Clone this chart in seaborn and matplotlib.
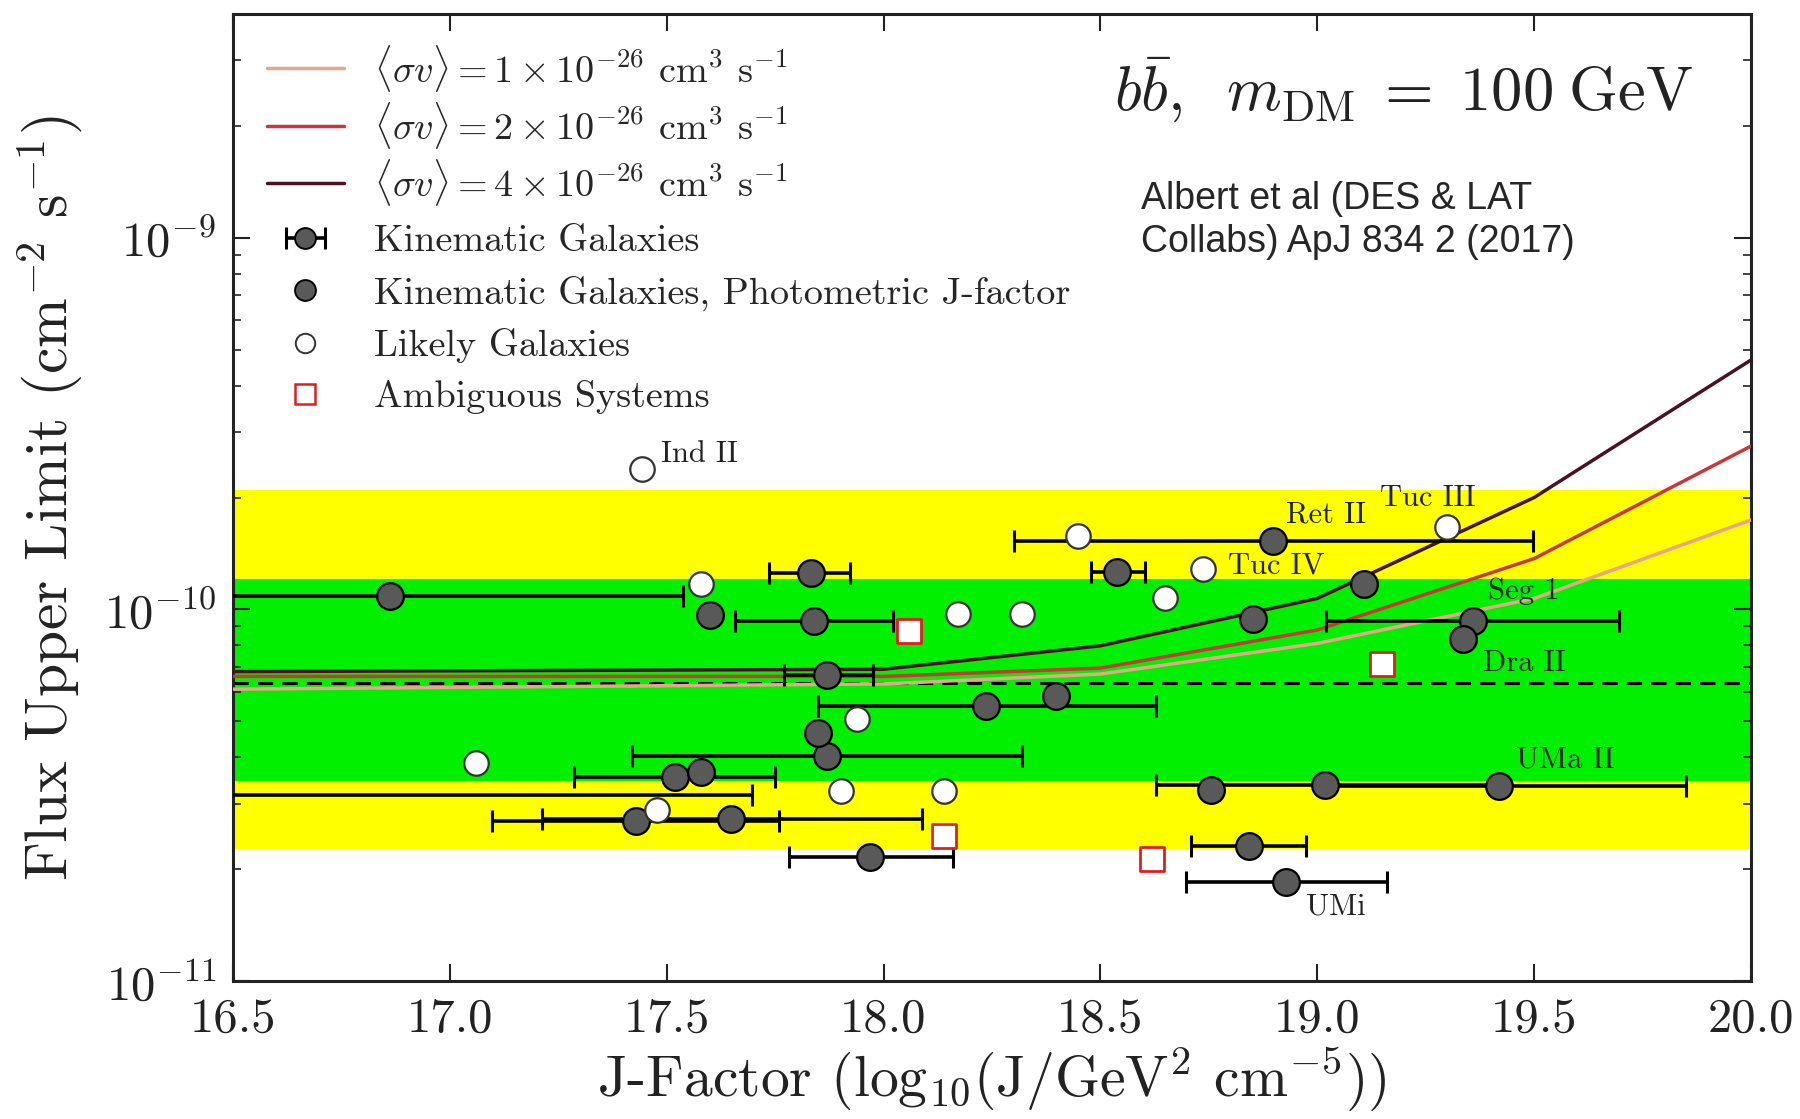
import numpy as np
import pandas as pd
import matplotlib
matplotlib.use("Agg")
import matplotlib.pyplot as plt
import seaborn as sns
from matplotlib.lines import Line2D
from matplotlib.legend_handler import HandlerTuple
from matplotlib.ticker import FormatStrFormatter, LogLocator, NullFormatter

# ---------------- data ----------------
# cross-section curves (x = log10 J, y = flux upper limit)
curve_x = [16.5, 18.0, 18.5, 19.0, 19.5, 20.0]
curve_1e26 = [6.1e-11, 6.3e-11, 6.7e-11, 8.1e-11, 1.07e-10, 1.74e-10]
curve_2e26 = [6.6e-11, 6.6e-11, 6.95e-11, 8.8e-11, 1.37e-10, 2.75e-10]
curve_4e26 = [6.8e-11, 6.9e-11, 7.98e-11, 1.07e-10, 2.0e-10, 4.69e-10]
curve_labels = [r'$\langle\sigma v\rangle = 1\times10^{-26}$ cm$^3$ s$^{-1}$',
                r'$\langle\sigma v\rangle = 2\times10^{-26}$ cm$^3$ s$^{-1}$',
                r'$\langle\sigma v\rangle = 4\times10^{-26}$ cm$^3$ s$^{-1}$']
marker_labels = ["Kinematic Galaxies", "Kinematic Galaxies, Photometric J-factor",
                 "Likely Galaxies", "Ambiguous Systems"]

# expected sensitivity bands and median
band95 = [2.26e-11, 2.10e-10]
band68 = [3.45e-11, 1.21e-10]
median_flux = 6.35e-11

# kinematic galaxies with J-factor uncertainties
kin_x = [16.863, 17.832, 17.840, 17.869, 18.237, 17.869, 17.519, 17.429, 17.649, 16.300,
         18.899, 18.539, 18.843, 17.969, 18.928, 19.018, 19.418, 19.359]
kin_y = [1.089e-10, 1.254e-10, 9.31e-11, 6.68e-11, 5.51e-11, 4.04e-11, 3.55e-11, 2.70e-11, 2.73e-11, 3.17e-11,
         1.53e-10, 1.263e-10, 2.31e-11, 2.16e-11, 1.85e-11, 3.36e-11, 3.34e-11, 9.31e-11]
kin_lo = [16.20, 17.736, 17.657, 17.771, 17.848, 17.421, 17.286, 17.098, 17.212, 15.90,
          18.300, 18.478, 18.708, 17.781, 18.697, 18.629, 19.018, 19.020]
kin_hi = [17.538, 17.922, 18.022, 17.975, 18.629, 18.319, 17.750, 17.760, 18.089, 17.697,
          19.497, 18.602, 18.973, 18.160, 19.161, 19.418, 19.849, 19.696]

# kinematic galaxies with photometric J-factor
phot_x = [17.601, 18.398, 17.850, 17.580, 18.756, 18.851, 19.108, 19.336]
phot_y = [9.65e-11, 5.84e-11, 4.65e-11, 3.66e-11, 3.27e-11, 9.45e-11, 1.169e-10, 8.32e-11]

# likely galaxies
likely_x = [17.443, 17.580, 18.449, 18.737, 19.298, 18.650, 18.171, 18.319, 17.938, 17.061, 17.901, 18.139, 17.477]
likely_y = [2.39e-10, 1.169e-10, 1.574e-10, 1.281e-10, 1.665e-10, 1.073e-10, 9.72e-11, 9.70e-11,
            5.07e-11, 3.87e-11, 3.24e-11, 3.24e-11, 2.89e-11]

# ambiguous systems
amb_x = [18.059, 19.150, 18.139, 18.618]
amb_y = [8.74e-11, 7.12e-11, 2.46e-11, 2.13e-11]

# annotations
name_text = ["Ind II", "Ret II", "Tuc III", "Tuc IV", "Seg 1", "Dra II", "UMa II", "UMi"]
name_x = [17.488, 18.928, 19.145, 18.795, 19.394, 19.383, 19.457, 18.975]
name_y = [2.62e-10, 1.80e-10, 1.99e-10, 1.31e-10, 1.12e-10, 7.17e-11, 3.95e-11, 1.58e-11]

xticks = [16.5, 17.0, 17.5, 18.0, 18.5, 19.0, 19.5, 20.0]

# ---------------- style ----------------
sns.set_style("ticks")
plt.rcParams['font.family'] = ['cmr10', 'DejaVu Serif']
plt.rcParams['mathtext.fontset'] = 'cm'
plt.rcParams['axes.formatter.use_mathtext'] = True
plt.rcParams['axes.unicode_minus'] = True

c_light = "#e8a48c"
c_red = "#c8383a"
c_dark = "#4a1226"

fig = plt.figure(figsize=(18, 11.19), dpi=100)
ax = fig.add_axes([0.1294, 0.1233, 0.8434, 0.8642])

ax.axhspan(band95[0], band95[1], color="#ffff00", lw=0, zorder=0)
ax.axhspan(band68[0], band68[1], color="#00f000", lw=0, zorder=0.5)
ax.axhline(median_flux, color="black", lw=2.2, dashes=(5, 3), zorder=2)

curves = pd.DataFrame({
    "J": curve_x * 3,
    "flux": curve_1e26 + curve_2e26 + curve_4e26,
    "sv": [curve_labels[0]] * len(curve_x) + [curve_labels[1]] * len(curve_x) + [curve_labels[2]] * len(curve_x),
})
sns.lineplot(data=curves, x="J", y="flux", hue="sv", palette=[c_light, c_red, c_dark],
             lw=2.5, legend=False, ax=ax, zorder=3, estimator=None, sort=False)

kin_x_a = np.array(kin_x)
err = ax.errorbar(kin_x, kin_y, xerr=[kin_x_a - np.array(kin_lo), np.array(kin_hi) - kin_x_a],
                  fmt="none", ecolor="black", elinewidth=2.6, capsize=8, capthick=2.2, zorder=4)

filled_kw = dict(marker="o", s=370, color="#595959", edgecolor="black", linewidth=1.6, zorder=6)
sns.scatterplot(x=kin_x, y=kin_y, ax=ax, **filled_kw)
sns.scatterplot(x=phot_x, y=phot_y, ax=ax, **filled_kw)
sns.scatterplot(x=likely_x, y=likely_y, ax=ax, marker="o", s=310, color="white",
                edgecolor="#333333", linewidth=1.6, zorder=6)
sns.scatterplot(x=amb_x, y=amb_y, ax=ax, marker="s", s=290, color="white",
                edgecolor="#e01e1e", linewidth=2.0, zorder=6)

for t, x, y in zip(name_text, name_x, name_y):
    ax.text(x, y, t, fontsize=22, ha="left", va="center", color="#222222", zorder=7)

ax.text(0.962, 0.921, r'$b\bar{b},\;\; m_{\rm DM}\;=\;100\;{\rm GeV}$', transform=ax.transAxes,
        fontsize=45, ha="right", va="center", color="#222222")
ax.text(0.598, 0.786, "Albert et al (DES & LAT\nCollabs) ApJ 834 2 (2017)", transform=ax.transAxes,
        fontsize=27, ha="left", va="center", family="Liberation Sans", linespacing=1.25)

ax.set_yscale("log")
ax.set_xlim(16.5, 20.0)
ax.set_ylim(1e-11, 4e-9)
ax.set_xticks(xticks)
ax.xaxis.set_major_formatter(FormatStrFormatter("%.1f"))
ax.yaxis.set_major_locator(LogLocator(base=10, numticks=10))
ax.yaxis.set_minor_locator(LogLocator(base=10, subs=np.arange(2, 10), numticks=20))
ax.yaxis.set_minor_formatter(NullFormatter())

ax.tick_params(which="both", direction="in", top=True, right=True, colors="#222222")
ax.tick_params(which="major", length=12, width=1.5, labelsize=35, pad=12)
ax.tick_params(which="minor", length=6, width=1.2)
for s in ax.spines.values():
    s.set_linewidth(2.2)
    s.set_color("#222222")

ax.set_xlabel(r'J-Factor (log$_{10}$(J/GeV$^2$ cm$^{-5}$))', fontsize=41.5, labelpad=3, color="#222222")
ax.set_ylabel(r'Flux Upper Limit (cm$^{-2}$ s$^{-1}$)', fontsize=43, labelpad=14, color="#222222")

# legends
h_light = Line2D([], [], color=c_light, lw=2.5)
h_red = Line2D([], [], color=c_red, lw=2.5)
h_dark = Line2D([], [], color=c_dark, lw=2.5)
h_kin_m = Line2D([], [], ls="none", marker="o", markersize=15, markerfacecolor="#595959",
                 markeredgecolor="black", markeredgewidth=1.4)
h_phot = Line2D([], [], ls="none", marker="o", markersize=15, markerfacecolor="#595959",
                markeredgecolor="black", markeredgewidth=1.4)
h_likely = Line2D([], [], ls="none", marker="o", markersize=14, markerfacecolor="white",
                  markeredgecolor="#333333", markeredgewidth=1.4)
h_amb = Line2D([], [], ls="none", marker="s", markersize=14, markerfacecolor="white",
               markeredgecolor="#e01e1e", markeredgewidth=1.8)

leg1 = ax.legend([h_light, h_red, h_dark], curve_labels,
                 loc="upper left", bbox_to_anchor=(0, 1.006), frameon=False, fontsize=27.5,
                 handlelength=2.0, labelspacing=0.16, handletextpad=0.8, borderaxespad=0.5)
ax.add_artist(leg1)
leg2 = ax.legend([(err, h_kin_m), h_phot, h_likely, h_amb], marker_labels,
                 handler_map={tuple: HandlerTuple(ndivide=1, pad=0)},
                 loc="center left", bbox_to_anchor=(0, 0.684), frameon=False, fontsize=27.5,
                 handlelength=2.0, labelspacing=0.45, handletextpad=0.8, borderaxespad=0.5)

fig.savefig("out.png", dpi=100)
